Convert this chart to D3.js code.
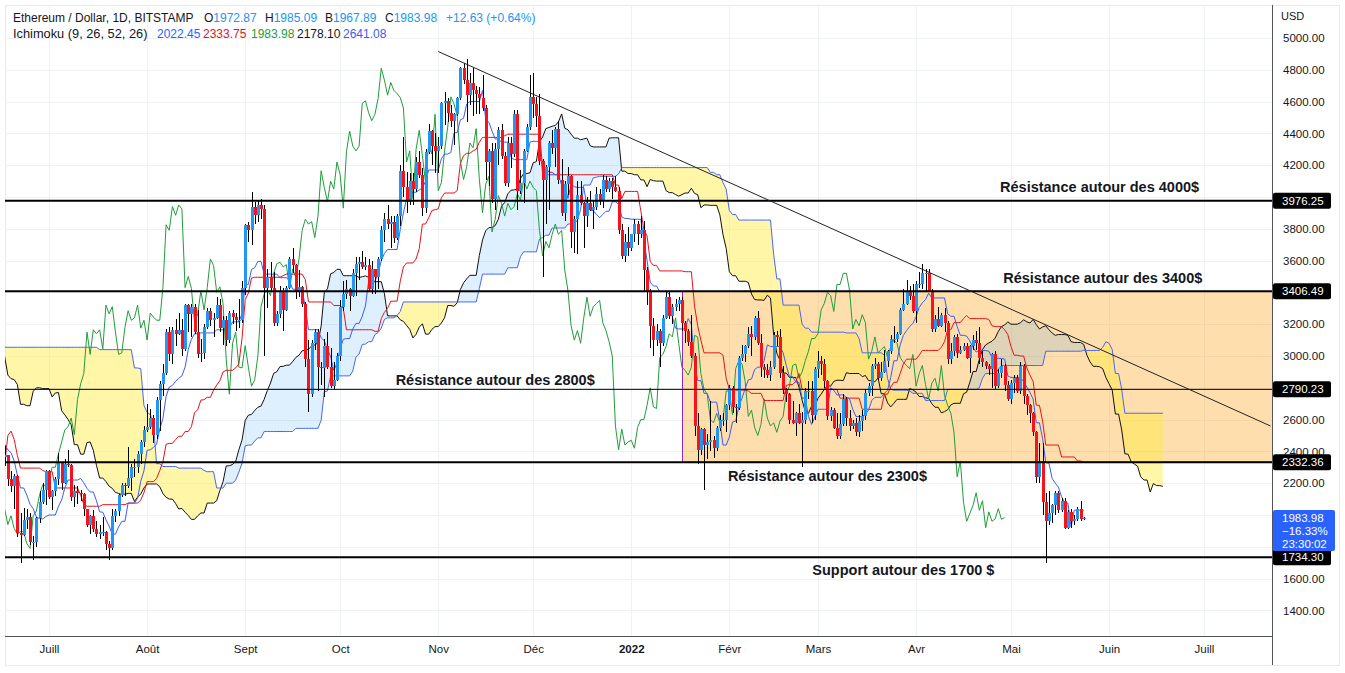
<!DOCTYPE html>
<html>
<head>
<meta charset="utf-8">
<script src="https://cdn.jsdelivr.net/npm/d3@7"></script>
<style>
  body { margin: 0; background: #ffffff; }
  text { font-family: "Liberation Sans", Arial, sans-serif; }
</style>
</head>
<body>
<div id="chart"></div>

<script>
    // ETH / USD daily candles (Bitstamp), first candle = 1 avril 2021
    // the weeks before the visible range are only there to feed the ichimoku
    var firstDay = [2021, 3, 1];

    // [open, high, low, close]
    var candles = [
        // avril 2021
        [1918,1990,1900,1970],[1970,2140,1950,2135],[2135,2145,2020,2025],[2025,2100,1990,2090],[2090,2130,2020,2110],
        [2110,2160,2070,2115],[2115,2150,1930,1970],[1970,2095,1965,2085],[2085,2110,2050,2070],[2070,2195,2060,2135],
        [2135,2165,2110,2150],[2150,2200,2110,2140],[2140,2325,2130,2305],[2305,2450,2280,2430],[2430,2545,2410,2515],
        [2515,2550,2300,2420],[2420,2500,2300,2330],[2330,2355,1950,2240],[2240,2270,2100,2160],[2160,2345,2080,2330],
        [2330,2495,2300,2360],[2360,2645,2360,2400],[2400,2450,2100,2365],[2365,2370,2180,2210],[2210,2360,2180,2315],
        [2315,2550,2300,2535],[2535,2680,2505,2660],[2660,2750,2580,2745],[2745,2795,2670,2755],[2755,2800,2725,2775],
        // mai 2021
        [2775,2950,2750,2945],[2945,2985,2850,2950],[2950,3450,2940,3430],[3430,3530,3170,3250],[3250,3540,3210,3520],
        [3520,3610,3390,3490],[3490,3590,3400,3480],[3480,3950,3460,3910],[3910,4000,3730,3930],[3930,4200,3600,3950],
        [3950,4230,3850,4170],[4170,4380,3800,3810],[3810,4135,3550,3720],[3720,4150,3710,4080],[4080,4140,3620,3640],
        [3640,3680,3200,3570],[3570,3590,3150,3290],[3290,3565,3270,3380],[3380,3445,1900,2450],[2450,2930,2160,2780],
        [2780,2945,2170,2430],[2430,2470,2105,2300],[2300,2370,1730,2100],[2100,2650,2090,2640],[2640,2750,2390,2710],
        [2710,2910,2645,2885],[2885,2890,2650,2740],[2740,2760,2310,2420],[2420,2555,2180,2280],[2280,2440,2200,2390],
        [2390,2710,2300,2705],
        // juin 2021
        [2705,2740,2540,2630],[2630,2800,2595,2710],[2710,2890,2700,2855],[2855,2860,2560,2690],[2690,2810,2570,2630],
        [2630,2750,2610,2715],[2715,2845,2570,2590],[2590,2620,2320,2515],[2515,2620,2400,2610],[2610,2620,2430,2470],
        [2470,2530,2310,2360],[2360,2440,2250,2370],[2370,2530,2310,2515],[2515,2620,2470,2590],[2590,2640,2520,2545],
        [2545,2550,2335,2365],[2365,2435,2310,2375],[2375,2380,2180,2225],[2225,2275,2145,2180],[2180,2255,2040,2245],
        [2245,2250,1860,1885],[1885,2010,1700,1875],[1875,2045,1870,1970],[1970,2040,1915,1990],[1990,2010,1810,1830],
        [1830,1870,1720,1830],[1830,1985,1800,1980],[1980,2150,1950,2080],[2080,2200,2070,2160],[2160,2280,2060,2275],
        // juillet 2021
        [2275,2280,2100,2115],[2115,2160,2030,2150],[2150,2240,2120,2225],[2225,2390,2190,2325],[2325,2330,2160,2200],
        [2200,2355,2195,2320],[2320,2410,2300,2315],[2315,2320,2085,2115],[2115,2190,2050,2150],[2150,2185,2070,2140],
        [2140,2160,2090,2135],[2135,2140,1995,2035],[2035,2040,1925,1940],[1940,2000,1880,1995],[1995,2030,1890,1915],
        [1915,1960,1860,1880],[1880,1940,1850,1895],[1895,1990,1870,1895],[1895,1900,1780,1820],[1820,1835,1720,1790],
        [1790,2040,1780,1995],[1995,2035,1955,2025],[2025,2130,1995,2125],[2125,2200,2115,2190],[2190,2200,2120,2185],
        [2185,2430,2170,2230],[2230,2320,2150,2300],[2300,2350,2240,2300],[2300,2400,2265,2385],[2385,2470,2320,2460],
        [2460,2560,2430,2535],
        // août 2021
        [2535,2700,2520,2555],[2555,2665,2540,2610],[2610,2630,2450,2505],[2505,2740,2480,2725],[2725,2840,2530,2825],
        [2825,2950,2750,2890],[2890,3170,2880,3150],[3150,3180,2970,3010],[3010,3180,2950,3165],[3165,3230,3060,3140],
        [3140,3270,3130,3165],[3165,3230,3000,3045],[3045,3330,3030,3320],[3320,3330,3150,3265],[3265,3330,3120,3310],
        [3310,3330,3140,3150],[3150,3290,2990,3010],[3010,3110,2960,3020],[3020,3200,2980,3180],[3180,3300,3170,3285],
        [3285,3300,3190,3225],[3225,3270,3120,3240],[3240,3370,3230,3320],[3320,3360,3150,3175],[3175,3250,3070,3225],
        [3225,3250,3060,3100],[3100,3280,3080,3270],[3270,3290,3200,3245],[3245,3270,3160,3225],[3225,3360,3175,3225],
        [3225,3470,3210,3430],
        // septembre 2021
        [3430,3830,3385,3825],[3825,3840,3720,3790],[3790,4030,3700,3940],[3940,3970,3830,3885],[3885,3980,3840,3950],
        [3950,3985,3860,3925],[3925,3950,3000,3430],[3430,3550,3300,3500],[3500,3590,3400,3425],[3425,3530,3190,3210],
        [3210,3280,3190,3265],[3265,3440,3240,3410],[3410,3430,3160,3290],[3290,3440,3280,3430],[3430,3620,3420,3610],
        [3610,3680,3520,3570],[3570,3580,3360,3400],[3400,3540,3370,3435],[3435,3440,3310,3330],[3330,3340,2930,2980],
        [2980,3100,2650,2760],[2760,3100,2740,3080],[3080,3170,3040,3150],[3150,3170,2780,2930],[2930,2960,2820,2925],
        [2925,3110,2740,3065],[3065,3150,2920,2930],[2930,3050,2800,2810],[2810,2960,2790,2850],[2850,3020,2840,3000],
        // octobre 2021
        [3000,3350,2970,3310],[3310,3470,3280,3390],[3390,3480,3360,3420],[3420,3430,3280,3380],[3380,3550,3370,3520],
        [3520,3620,3380,3580],[3580,3620,3480,3590],[3590,3660,3550,3560],[3560,3620,3540,3575],[3575,3610,3410,3420],
        [3420,3600,3390,3545],[3545,3550,3390,3495],[3495,3620,3420,3610],[3610,3820,3600,3790],[3790,3900,3720,3860],
        [3860,3950,3800,3830],[3830,3880,3680,3845],[3845,3880,3710,3745],[3745,3890,3730,3880],[3880,4200,3820,4165],
        [4165,4380,4000,4060],[4060,4160,3900,3970],[3970,4150,3950,4100],[4100,4150,3950,4050],[4050,4250,4030,4220],
        [4220,4290,4120,4140],[4140,4180,3880,3930],[3930,4300,3900,4285],[4285,4460,4270,4415],[4415,4420,4200,4320],
        [4320,4400,4150,4290],
        // novembre 2021
        [4290,4380,4150,4320],[4320,4600,4300,4590],[4590,4660,4450,4605],[4605,4620,4470,4530],[4530,4580,4440,4480],
        [4480,4530,4330,4520],[4520,4630,4510,4620],[4620,4820,4610,4810],[4810,4840,4710,4735],[4735,4870,4470,4640],
        [4640,4780,4580,4720],[4720,4810,4510,4670],[4670,4700,4520,4650],[4650,4690,4520,4625],[4625,4770,4540,4560],
        [4560,4580,4110,4220],[4220,4300,4070,4290],[4290,4340,3960,3990],[3990,4340,3920,4300],[4300,4440,4200,4420],
        [4420,4460,4240,4260],[4260,4280,4070,4090],[4090,4380,4060,4340],[4340,4380,4180,4270],[4270,4550,4250,4520],
        [4520,4550,3920,4040],[4040,4170,4020,4090],[4090,4300,3960,4290],[4290,4460,4280,4440],[4440,4770,4420,4630],
        // décembre 2021
        [4630,4780,4500,4585],[4585,4630,4440,4510],[4510,4650,4200,4225],[4225,4240,3500,4110],[4110,4200,3830,4190],
        [4190,4350,3920,4340],[4340,4420,4270,4310],[4310,4440,4190,4430],[4430,4480,4080,4110],[4110,4240,3880,3900],
        [3900,4100,3850,4080],[4080,4190,4010,4130],[4130,4140,3680,3780],[3780,3880,3650,3860],[3860,4100,3640,4010],
        [4010,4100,3950,3960],[3960,3970,3680,3880],[3880,4000,3810,3960],[3960,4040,3910,3920],[3920,3980,3800,3940],
        [3940,4060,3920,4020],[4020,4050,3950,3980],[3980,4140,3930,4110],[4110,4130,4030,4050],[4050,4120,4030,4100],
        [4100,4120,3990,4060],[4060,4130,4030,4040],[4040,4060,3770,3790],[3790,3830,3610,3630],[3630,3770,3590,3720],
        [3720,3810,3630,3680],
        // janvier 2022
        [3680,3770,3660,3765],[3765,3860,3720,3830],[3830,3850,3700,3765],[3765,3880,3740,3790],[3790,3850,3400,3540],
        [3540,3560,3320,3410],[3410,3420,3050,3190],[3190,3240,3000,3100],[3100,3200,3060,3160],[3160,3170,2930,3080],
        [3080,3260,3060,3240],[3240,3410,3230,3370],[3370,3400,3230,3250],[3250,3330,3200,3310],[3310,3360,3280,3330],
        [3330,3370,3280,3350],[3350,3370,3160,3210],[3210,3220,3080,3160],[3160,3170,3060,3090],[3090,3260,2990,3000],
        [3000,3020,2500,2560],[2560,2640,2320,2410],[2410,2550,2380,2540],[2540,2550,2160,2440],[2440,2510,2350,2460],
        [2460,2720,2400,2470],[2470,2500,2360,2420],[2420,2560,2400,2550],[2550,2630,2530,2600],[2600,2640,2560,2600],
        [2600,2700,2520,2690],
        // février 2022
        [2690,2820,2660,2800],[2800,2810,2640,2680],[2680,2700,2580,2670],[2670,3000,2660,2990],[2990,3070,2970,3010],
        [3010,3070,2960,3060],[3060,3180,3050,3140],[3140,3190,3000,3120],[3120,3250,3100,3240],[3240,3280,3070,3080],
        [3080,3140,2870,2930],[2930,2950,2860,2910],[2910,2950,2860,2880],[2880,2970,2840,2930],[2930,3150,2920,3130],
        [3130,3160,3060,3120],[3120,3170,2860,2890],[2890,2940,2760,2790],[2790,2800,2710,2760],[2760,2770,2570,2600],
        [2600,2720,2570,2580],[2580,2650,2500,2640],[2640,2700,2570,2580],[2580,2650,2300,2600],[2600,2800,2570,2780],
        [2780,2840,2730,2780],[2780,2840,2580,2630],[2630,2930,2600,2920],
        // mars 2022
        [2920,3030,2860,2970],[2970,3000,2880,2950],[2950,2980,2800,2840],[2840,2850,2600,2620],[2620,2680,2590,2660],
        [2660,2670,2540,2550],[2550,2640,2480,2500],[2500,2640,2480,2570],[2570,2760,2560,2730],[2730,2740,2560,2610],
        [2610,2660,2530,2560],[2560,2600,2540,2580],[2580,2610,2500,2520],[2520,2630,2490,2590],[2590,2660,2530,2620],
        [2620,2790,2600,2770],[2770,2830,2750,2810],[2810,2950,2750,2940],[2940,2990,2920,2950],[2950,2960,2850,2860],
        [2860,2960,2840,2900],[2900,3040,2890,2970],[2970,3040,2930,3030],[3030,3130,3010,3110],[3110,3190,3080,3110],
        [3110,3150,3090,3140],[3140,3300,3130,3290],[3290,3420,3280,3330],[3330,3480,3320,3400],[3400,3440,3350,3380],
        [3380,3450,3270,3280],
        // avril 2022
        [3280,3470,3210,3450],[3450,3530,3430,3450],[3450,3580,3420,3520],[3520,3550,3400,3520],[3520,3550,3400,3410],
        [3410,3420,3150,3170],[3170,3260,3150,3230],[3230,3310,3180,3190],[3190,3270,3180,3260],[3260,3300,3150,3210],
        [3210,3220,2950,2980],[2980,3080,2950,3030],[3030,3130,3000,3120],[3120,3140,2990,3020],[3020,3060,3010,3040],
        [3040,3080,3030,3060],[3060,3080,2980,2990],[2990,3070,2890,3060],[3060,3130,3040,3100],[3100,3160,3040,3080],
        [3080,3180,2950,2990],[2990,3030,2930,2960],[2960,2970,2920,2940],[2940,2950,2880,2920],[2920,3020,2800,3010],
        [3010,3030,2790,2810],[2810,2920,2800,2890],[2890,2980,2860,2940],[2940,2950,2780,2820],[2820,2840,2720,2730],
        // mai 2022
        [2730,2850,2700,2830],[2830,2880,2770,2860],[2860,2880,2770,2780],[2780,2960,2760,2940],[2940,2950,2700,2750],
        [2750,2760,2630,2690],[2690,2700,2580,2640],[2640,2650,2500,2520],[2520,2530,2200,2240],[2240,2450,2200,2340],
        [2340,2450,2000,2080],[2080,2140,1700,1960],[1960,2150,1940,2010],[2010,2070,1950,2060],[2060,2150,2000,2140],
        [2140,2150,2010,2030],[2030,2110,2020,2090],[2090,2110,1910,1920],[1920,2030,1910,2020],[2020,2040,1920,1960],
        [1960,2000,1940,1975],[1975,2050,1960,2040],[2040,2085,1960,1972.87],[1972.87,1985.09,1967.89,1983.98]
    ];

    var ichiParams = [9, 26, 52, 26];

    var monthTicks = ["2021-07-01","2021-08-01","2021-09-01","2021-10-01","2021-11-01","2021-12-01",
                      "2022-01-01","2022-02-01","2022-03-01","2022-04-01","2022-05-01","2022-06-01","2022-07-01"];
    var monthLabels = ["Juill","Août","Sept","Oct","Nov","Déc","2022","Févr","Mars","Avr","Mai","Juin","Juill"];
    var priceTicks = [1400,1600,1800,2000,2200,2400,2600,2800,3000,3200,3400,3600,3800,4000,4200,4400,4600,4800,5000];
    // labels hidden behind the price tags on the axis
    var hiddenTicks = [1800, 2000, 2800, 3400, 4000];

    var levels = [3976.25, 3406.49, 2790.23, 2332.36, 1734.30];
    var zoneStart = "2022-01-17";
    var zoneTop = 3406.49, zoneBottom = 2332.36;
    var trend = [["2021-11-01", 4915], ["2022-07-22", 2560]];

    var noteTexts = ["Résistance autour des 4000$", "Résistance autour des 3400$", "Résistance autour des 2800$",
                     "Résistance autour des 2300$", "Support autour des 1700 $"];
    var noteDates = ["2022-05-29", "2022-05-30", "2021-11-19", "2022-03-04", "2022-03-28"];
    var notePrices = [4031, 3459, 2818, 2214, 1623];

    var lastOHLC = [1972.87, 1985.09, 1967.89, 1983.98];
    var lastChange = "+12.63 (+0.64%)";
    var ichiLegend = ["2022.45", "2333.75", "1983.98", "2178.10", "2641.08"];
    var lastLabel = ["1983.98", "\u221216.33%", "23:30:02"];

    // ---------------------------------------------------------------
    var W = 1345, H = 673;
    var plot = {left: 5, top: 5, right: 1272, bottom: 636};
    var upColor = "#2196f3", downColor = "#f7131b";

    var svg = d3.select("#chart").append("svg")
        .attr("width", W).attr("height", H);

    var x = d3.scaleUtc()
        .domain([new Date(Date.UTC(2021, 6, 1)), new Date(Date.UTC(2022, 6, 1))])
        .range([49, 1204]);
    var y = d3.scaleLinear()
        .domain([1400, 5000])
        .range([610.4, 38]);

    function day(i) {
        return new Date(Date.UTC(firstDay[0], firstDay[1], firstDay[2] + i));
    }
    function iso(s) { return new Date(s + "T00:00:00Z"); }

    // ichimoku from the candles
    function donchian(i, len) {
        if (i - len + 1 < 0) return null;
        var hi = -Infinity, lo = Infinity;
        for (var k = i - len + 1; k <= i; k++) {
            hi = Math.max(hi, candles[k][1]);
            lo = Math.min(lo, candles[k][2]);
        }
        return (hi + lo) / 2;
    }
    var shift = ichiParams[3] - 1;
    var tenkan = [], kijun = [], chikou = [], cloud = [];
    candles.forEach(function (c, i) {
        var t = donchian(i, ichiParams[0]),
            k = donchian(i, ichiParams[1]),
            b = donchian(i, ichiParams[2]);
        if (t !== null) tenkan.push([i, t]);
        if (k !== null) kijun.push([i, k]);
        chikou.push([i - shift, c[3]]);
        if (t !== null && k !== null && b !== null) cloud.push({i: i + shift, a: (t + k) / 2, b: b});
    });

    var defs = svg.append("defs");
    defs.append("clipPath").attr("id", "plotClip").append("rect")
        .attr("x", plot.left).attr("y", plot.top)
        .attr("width", plot.right - plot.left).attr("height", plot.bottom - plot.top);

    // frame + grid
    svg.append("rect").attr("x", 5.5).attr("y", 5.5).attr("width", 1334).attr("height", 660)
        .attr("fill", "#fff").attr("stroke", "#e6e9f0");

    var grid = svg.append("g").attr("stroke", "#eef1f6").attr("stroke-width", 1);
    grid.selectAll("line.h").data(priceTicks).enter().append("line")
        .attr("x1", plot.left).attr("x2", plot.right)
        .attr("y1", function (d) { return Math.round(y(d)) + 0.5; })
        .attr("y2", function (d) { return Math.round(y(d)) + 0.5; });
    grid.selectAll("line.v").data(monthTicks).enter().append("line")
        .attr("y1", plot.top).attr("y2", plot.bottom)
        .attr("x1", function (d) { return Math.round(x(iso(d))) + 0.5; })
        .attr("x2", function (d) { return Math.round(x(iso(d))) + 0.5; });

    var g = svg.append("g").attr("clip-path", "url(#plotClip)");

    // orange zone
    g.append("rect")
        .attr("x", Math.round(x(iso(zoneStart))) + 0.5)
        .attr("y", y(zoneTop))
        .attr("width", plot.right - Math.round(x(iso(zoneStart))))
        .attr("height", y(zoneBottom) - y(zoneTop))
        .attr("fill", "rgba(255,152,0,0.32)")
        .attr("stroke", "#9c27b0").attr("stroke-width", 1);

    // cloud
    var cx = function (d) { return x(day(d.i)); };
    defs.append("clipPath").attr("id", "aboveB").append("path")
        .attr("d", d3.area().x(cx).y0(plot.top).y1(function (d) { return y(d.b); })(cloud));
    defs.append("clipPath").attr("id", "belowB").append("path")
        .attr("d", d3.area().x(cx).y0(plot.bottom).y1(function (d) { return y(d.b); })(cloud));

    g.append("path")
        .attr("d", d3.area().x(cx).y0(plot.bottom).y1(function (d) { return y(d.a); })(cloud))
        .attr("clip-path", "url(#aboveB)")
        .attr("fill", "rgba(33,150,243,0.15)");
    g.append("path")
        .attr("d", d3.area().x(cx).y0(plot.top).y1(function (d) { return y(d.a); })(cloud))
        .attr("clip-path", "url(#belowB)")
        .attr("fill", "rgba(255,235,59,0.45)");

    var lineOf = function () {
        return d3.line().x(function (d) { return x(day(d[0])); }).y(function (d) { return y(d[1]); });
    };
    g.append("path").attr("d", d3.line().x(cx).y(function (d) { return y(d.a); })(cloud))
        .attr("fill", "none").attr("stroke", "#111").attr("stroke-width", 1);
    g.append("path").attr("d", d3.line().x(cx).y(function (d) { return y(d.b); })(cloud))
        .attr("fill", "none").attr("stroke", "#4a66f5").attr("stroke-width", 1);
    g.append("path").attr("d", lineOf()(chikou))
        .attr("fill", "none").attr("stroke", "#1f9d3a").attr("stroke-width", 1);
    g.append("path").attr("d", lineOf()(kijun))
        .attr("fill", "none").attr("stroke", "#e2141c").attr("stroke-width", 1);
    g.append("path").attr("d", lineOf()(tenkan))
        .attr("fill", "none").attr("stroke", "#3a5cf5").attr("stroke-width", 1);

    // candles
    var bars = g.append("g").attr("shape-rendering", "crispEdges")
        .selectAll("g").data(candles).enter().append("g");
    bars.append("line")
        .attr("x1", function (d, i) { return Math.round(x(day(i))) + 0.5; })
        .attr("x2", function (d, i) { return Math.round(x(day(i))) + 0.5; })
        .attr("y1", function (d) { return y(d[1]); })
        .attr("y2", function (d) { return y(d[2]); })
        .attr("stroke", "#000").attr("stroke-width", 1);
    bars.append("rect")
        .attr("x", function (d, i) { return Math.round(x(day(i))) - 1; })
        .attr("width", 3)
        .attr("y", function (d) { return y(Math.max(d[0], d[3])); })
        .attr("height", function (d) { return Math.max(1, Math.abs(y(d[0]) - y(d[3]))); })
        .attr("fill", function (d) { return d[3] >= d[0] ? upColor : downColor; });

    // horizontal levels
    g.selectAll("line.level").data(levels).enter().append("line")
        .attr("x1", plot.left).attr("x2", plot.right)
        .attr("y1", function (d) { return y(d); })
        .attr("y2", function (d) { return y(d); })
        .attr("stroke", "#000")
        .attr("stroke-width", function (d) { return d === 2790.23 ? 1 : 2; });

    // trend line
    var t0 = [x(iso(trend[0][0])), y(trend[0][1])], t1 = [x(iso(trend[1][0])), y(trend[1][1])];
    g.append("line")
        .attr("x1", t0[0]).attr("y1", t0[1]).attr("x2", t1[0]).attr("y2", t1[1])
        .attr("stroke", "#222").attr("stroke-width", 1);

    // annotations
    g.selectAll("text.note").data(noteTexts).enter().append("text")
        .attr("x", function (d, i) { return x(iso(noteDates[i])); })
        .attr("y", function (d, i) { return y(notePrices[i]); })
        .attr("text-anchor", "middle")
        .attr("font-size", "14.5px").attr("font-weight", "bold").attr("fill", "#131722")
        .text(function (d) { return d; });

    // axes lines
    svg.append("line").attr("x1", plot.left).attr("x2", plot.right)
        .attr("y1", plot.bottom + 0.5).attr("y2", plot.bottom + 0.5)
        .attr("stroke", "#50535e");
    svg.append("line").attr("x1", plot.right + 0.5).attr("x2", plot.right + 0.5)
        .attr("y1", plot.top).attr("y2", 665)
        .attr("stroke", "#50535e");

    // price axis
    var yAxis = svg.append("g")
        .attr("transform", "translate(" + (plot.right + 11) + ",0)")
        .call(d3.axisRight(y)
            .tickValues(priceTicks.filter(function (d) { return hiddenTicks.indexOf(d) < 0; }))
            .tickFormat(d3.format(".2f")).tickSize(0).tickPadding(0));
    yAxis.select(".domain").remove();
    yAxis.selectAll("text").attr("font-size", "11.5px").attr("fill", "#131722")
        .style("font-family", '"Liberation Sans", Arial, sans-serif');

    svg.append("text").attr("x", 1281).attr("y", 20).attr("font-size", "11px")
        .attr("fill", "#131722").text("USD");

    // level tags
    var tags = svg.selectAll("g.tag").data(levels).enter().append("g");
    tags.append("rect")
        .attr("x", plot.right + 1).attr("width", 58)
        .attr("y", function (d) { return y(d) - 8; }).attr("height", 16)
        .attr("rx", 2).attr("fill", "#000");
    tags.append("text")
        .attr("x", plot.right + 10).attr("y", function (d) { return y(d) + 4; })
        .attr("font-size", "11.5px").attr("fill", "#fff")
        .text(function (d) { return d3.format(".2f")(d); });

    // last price tag
    var lp = svg.append("g");
    lp.append("rect").attr("x", plot.right + 1).attr("y", 510).attr("width", 62).attr("height", 41)
        .attr("rx", 2).attr("fill", "#2962ff");
    lp.selectAll("text").data(lastLabel).enter().append("text")
        .attr("x", plot.right + 10).attr("y", function (d, i) { return 522 + i * 13; })
        .attr("font-size", "11.5px").attr("fill", "#fff")
        .text(function (d) { return d; });

    // time axis
    var xAxis = svg.append("g")
        .attr("transform", "translate(0," + (plot.bottom + 9) + ")")
        .call(d3.axisBottom(x).tickValues(monthTicks.map(iso))
            .tickFormat(function (d, i) { return monthLabels[i]; }).tickSize(0).tickPadding(0));
    xAxis.select(".domain").remove();
    xAxis.selectAll("text").attr("font-size", "11.5px").attr("fill", "#131722")
        .style("font-family", '"Liberation Sans", Arial, sans-serif')
        .attr("font-weight", function (d, i) { return monthLabels[i] === "2022" ? "bold" : "normal"; });

    // legend
    var leg1 = svg.append("text").attr("y", 22).attr("font-size", "12px").attr("fill", "#131722");
    leg1.append("tspan").attr("x", 13).text("Ethereum / Dollar, 1D, BITSTAMP");
    var keys = ["O", "H", "B", "C"], kx = [204, 265, 325, 385];
    keys.forEach(function (k, i) {
        leg1.append("tspan").attr("x", kx[i]).text(k);
        leg1.append("tspan").attr("fill", upColor).text(d3.format(".2f")(lastOHLC[i]));
    });
    leg1.append("tspan").attr("x", 446).attr("fill", upColor).text(lastChange);

    var leg2 = svg.append("text").attr("y", 38).attr("font-size", "12px").attr("fill", "#131722");
    leg2.append("tspan").attr("x", 13).attr("font-size", "12.8px").text("Ichimoku (9, 26, 52, 26)");
    var legColors = ["#2962ff", "#e2141c", "#1f9d3a", "#131722", "#3a5cf5"],
        legX = [157, 203, 251, 297, 343];
    ichiLegend.forEach(function (v, i) {
        leg2.append("tspan").attr("x", legX[i]).attr("fill", legColors[i]).text(v);
    });
</script>
</body>
</html>
